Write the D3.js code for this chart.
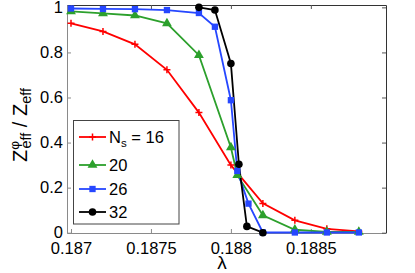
<!DOCTYPE html>
<html>
<head>
<meta charset="utf-8">
<script src="https://cdn.jsdelivr.net/npm/d3@7.9.0/dist/d3.min.js"></script>
<style>
  body { margin: 0; background: #fff; }
  svg { display: block; font-family: "Liberation Sans", Arial, sans-serif; }
</style>
</head>
<body>
<div id="chart"></div>
<script>
// chart size
const width = 415;
const height = 273;
const margin = { top: 5, right: 29, bottom: 40, left: 67 };

// data
const xTicks = [0.187, 0.1875, 0.188, 0.1885];
const yTicks = [0, 0.2, 0.4, 0.6, 0.8, 1];

const lambda16 = [0.187, 0.1872, 0.1874, 0.1876, 0.1878, 0.188, 0.1882, 0.1884, 0.1886, 0.1888];
const z16 = [0.929, 0.893, 0.836, 0.723, 0.533, 0.30, 0.13, 0.055, 0.017, 0.006];

const lambda20 = [0.187, 0.1872, 0.1874, 0.1876, 0.1878, 0.188, 0.18804, 0.1882, 0.1884, 0.1886, 0.1888];
const z20 = [0.982, 0.973, 0.964, 0.929, 0.788, 0.378, 0.255, 0.077, 0.013, 0.004, 0.003];

const lambda26 = [0.187, 0.1872, 0.1874, 0.1876, 0.1878, 0.1879, 0.188, 0.18804, 0.18811, 0.1882, 0.1884, 0.1886, 0.1888];
const z26 = [0.995, 0.993, 0.992, 0.988, 0.975, 0.914, 0.588, 0.274, 0.129, 0.001, 0.001, 0.001, 0.001];

const lambda32 = [0.1878, 0.1879, 0.188, 0.18805, 0.1881, 0.1882];
const z32 = [1.0, 0.988, 0.751, 0.304, 0.028, 0.0];

const seriesLabels = ["16", "20", "26", "32"];
const seriesColors = ["#ff0000", "#2ca02c", "#2647ff", "#000000"];
const seriesMarkers = ["plus", "triangle", "square", "circle"];

const series = [
  { xs: lambda16, ys: z16 },
  { xs: lambda20, ys: z20 },
  { xs: lambda26, ys: z26 },
  { xs: lambda32, ys: z32 },
].map((s, i) => ({
  label: seriesLabels[i],
  color: seriesColors[i],
  marker: seriesMarkers[i],
  points: s.xs.map((v, j) => ({ x: v, y: s.ys[j] })),
}));

const svg = d3.select("#chart")
  .append("svg")
  .attr("width", width)
  .attr("height", height);

const x = d3.scaleLinear()
  .domain([0.186975, 0.18897])
  .range([margin.left, width - margin.right]);

const y = d3.scaleLinear()
  .domain([0, 1.0105])
  .range([height - margin.bottom - 0.3, margin.top]);

// axes (ticks point inward, box all round)
const axBottom = svg.append("g")
  .attr("transform", `translate(0,${height - margin.bottom})`)
  .call(d3.axisBottom(x).tickValues(xTicks).tickFormat(d3.format("")).tickSizeInner(-4).tickSizeOuter(0).tickPadding(9));

const axLeft = svg.append("g")
  .attr("transform", `translate(${margin.left},0)`)
  .call(d3.axisLeft(y).tickValues(yTicks).tickFormat(d3.format("")).tickSizeInner(-4).tickSizeOuter(0).tickPadding(4));

const axTop = svg.append("g")
  .attr("transform", `translate(0,${margin.top})`)
  .call(d3.axisTop(x).tickValues(xTicks).tickFormat("").tickSizeInner(-4).tickSizeOuter(0));

const axRight = svg.append("g")
  .attr("transform", `translate(${width - margin.right},0)`)
  .call(d3.axisRight(y).tickValues(yTicks).tickFormat("").tickSizeInner(-4).tickSizeOuter(0));

[axBottom, axLeft].forEach(g => {
  g.select(".domain").attr("stroke", "#8a8a8a");
  g.selectAll(".tick line").attr("stroke", "#8a8a8a");
  g.selectAll("text").attr("font-size", 16.5).attr("fill", "#000").attr("font-family", "Liberation Sans, Arial, sans-serif");
});
[axTop, axRight].forEach(g => {
  g.select(".domain").attr("stroke", "#333");
  g.selectAll(".tick line").attr("stroke", "#555");
});

// marker drawing
function drawMarker(g, type, color) {
  if (type === "plus") {
    g.append("path").attr("d", "M-3.5,0H3.5M0,-3.5V3.5").attr("stroke", color).attr("stroke-width", 1.5);
  } else if (type === "triangle") {
    g.append("path").attr("d", d3.symbol(d3.symbolTriangle, 42)()).attr("fill", color);
  } else if (type === "square") {
    g.append("path").attr("d", d3.symbol(d3.symbolSquare, 40)()).attr("fill", color);
  } else {
    g.append("circle").attr("r", 3.8).attr("fill", color);
  }
}

const line = d3.line().x(d => x(d.x)).y(d => y(d.y));

const plot = svg.append("g");
series.forEach(s => {
  plot.append("path")
    .datum(s.points)
    .attr("fill", "none")
    .attr("stroke", s.color)
    .attr("stroke-width", 1.8)
    .attr("d", line);
});
series.forEach(s => {
  s.points.forEach(p => {
    const g = plot.append("g").attr("transform", `translate(${x(p.x)},${y(p.y)})`);
    drawMarker(g, s.marker, s.color);
  });
});

// legend
const legend = svg.append("g");
legend.append("rect")
  .attr("x", 73.5).attr("y", 120.5)
  .attr("width", 105.5).attr("height", 103.5)
  .attr("fill", "#fff").attr("stroke", "#444");

const legendY = [137, 165, 189, 212];
series.forEach((s, i) => {
  const g = legend.append("g").attr("transform", `translate(0,${legendY[i]})`);
  g.append("line").attr("x1", 79).attr("x2", 106).attr("stroke", s.color).attr("stroke-width", 1.8);
  const m = g.append("g").attr("transform", "translate(92.5,0)");
  drawMarker(m, s.marker, s.color);
  const t = g.append("text").attr("x", 109).attr("y", 6).attr("font-size", 16.5);
  if (i === 0) {
    t.append("tspan").text("N");
    t.append("tspan").attr("font-size", 11.5).attr("dy", 4).text("s");
    t.append("tspan").attr("dy", -4).text(" = " + s.label);
  } else {
    t.text(s.label);
  }
});

// axis titles
svg.append("text")
  .attr("x", 222).attr("y", 269)
  .attr("text-anchor", "middle")
  .attr("font-size", 19)
  .text("λ");

const yl = svg.append("text")
  .attr("transform", "translate(27,125) rotate(-90)")
  .attr("text-anchor", "middle")
  .attr("font-size", 20);
yl.append("tspan").text("Z");
yl.append("tspan").attr("font-size", 13.5).attr("dy", -8).text("φ");
yl.append("tspan").attr("font-size", 14.5).attr("dx", -7.5).attr("dy", 12).text("eff");
yl.append("tspan").attr("dy", -4).text(" / Z");
yl.append("tspan").attr("font-size", 14.5).attr("dy", 4).text("eff");
</script>
</body>
</html>
